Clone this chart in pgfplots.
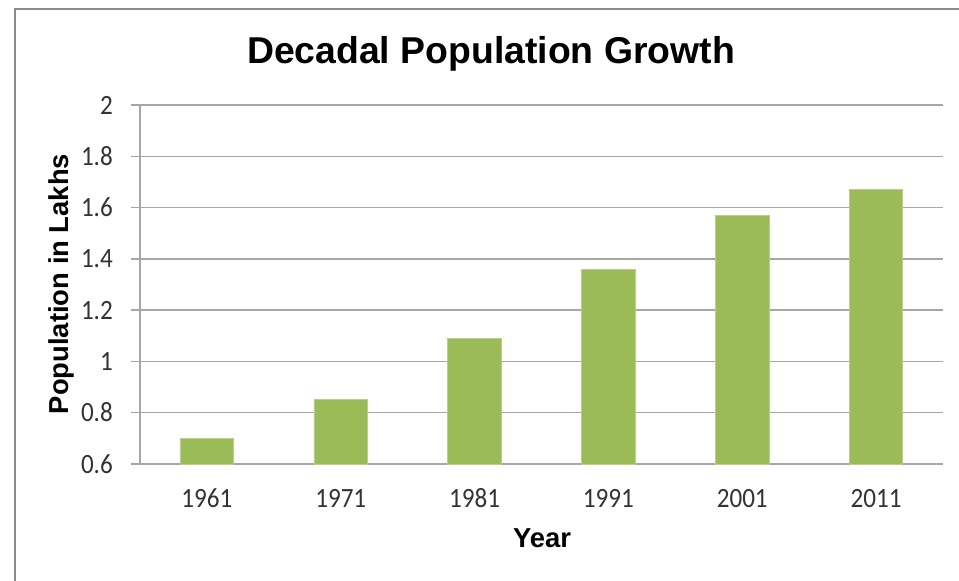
\documentclass[border=0pt]{standalone}
\usepackage{fontspec}
\setmainfont{Liberation Sans}
\newfontfamily\tickfont[FakeStretch=0.9]{Carlito}
\usepackage{pgfplots}
\pgfplotsset{compat=1.18}

\definecolor{barGreen}{HTML}{9BBB59}
\definecolor{barEdge}{HTML}{B9CF8A}
\definecolor{gridGray}{HTML}{A6A6A6}
\definecolor{frameGray}{HTML}{8C8C8C}
\definecolor{tickText}{HTML}{333333}

\begin{document}
\begin{tikzpicture}
  % page extent
  \useasboundingbox (0bp,0bp) rectangle (959bp,-581bp);
  % chart area border (left and top edges)
  \draw[frameGray, line width=1.6bp] (15bp,-581bp) -- (15bp,-9bp) -- (959bp,-9bp);

  \begin{axis}[
    at={(140bp,-464bp)}, anchor=south west,
    width=803bp, height=359bp, scale only axis,
    xmin=-0.5, xmax=5.5,
    ymin=0.6, ymax=2,
    ytick={0.6,0.8,1,1.2,1.4,1.6,1.8,2},
    xtick=data,
    xticklabels={1961,1971,1981,1991,2001,2011},
    /pgf/number format/assume math mode=true,
    axis x line*=bottom, axis y line*=left,
    axis line style={gridGray, line width=1.5bp, -},
    ymajorgrids,
    grid style={gridGray, line width=1.5bp},
    tick align=outside,
    major tick length=9bp,
    ytick style={gridGray, line width=1.5bp},
    xtick style={draw=none},
    yticklabel shift=18bp,
    xticklabel shift=16bp,
    yticklabel style={font=\fontsize{28}{30}\tickfont, text=tickText, inner sep=0pt, anchor=east,
                      text height=18bp, text depth=0pt},
    xticklabel style={font=\fontsize{28}{30}\tickfont, text=tickText, inner sep=0pt, anchor=north,
                      text height=18bp, text depth=0pt},
    bar width=0.4,
    clip=false,
  ]
    \addplot[ybar, fill=barGreen, draw=barEdge, line width=0.8bp]
      coordinates {(0,0.70) (1,0.85) (2,1.09) (3,1.36) (4,1.57) (5,1.67)};
  \end{axis}

  % title and axis titles
  \node[anchor=base, font=\fontsize{37.5}{40}\selectfont\bfseries] at (491bp,-63bp) {Decadal Population Growth};
  \node[anchor=base, font=\fontsize{27.5}{30}\selectfont\bfseries] at (542bp,-547bp) {Year};
  \node[anchor=base, rotate=90, font=\fontsize{27.5}{30}\selectfont\bfseries] at (68bp,-284bp) {Population in Lakhs};
\end{tikzpicture}
\end{document}
